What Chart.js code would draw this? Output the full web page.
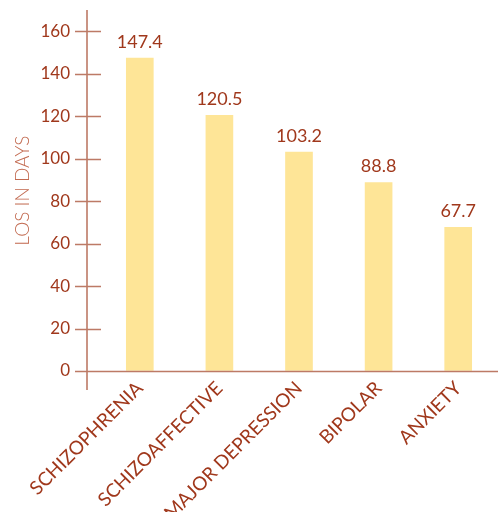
<!DOCTYPE html>
<html>
<head>
<meta charset="utf-8">
<script src="https://cdn.jsdelivr.net/npm/chart.js@4/dist/chart.umd.min.js"></script>
<style>
    html, body { margin: 0; padding: 0; background: #fff; }
    #wrap { width: 498px; height: 512px; }
</style>
</head>
<body>
<div id="wrap"><canvas id="losChart"></canvas></div>
<script>
// data
const diagnoses = ['SCHIZOPHRENIA', 'SCHIZOAFFECTIVE', 'MAJOR DEPRESSION', 'BIPOLAR', 'ANXIETY'];
const losDays = [147.4, 120.5, 103.2, 88.8, 67.7];
const yTicks = [0, 20, 40, 60, 80, 100, 120, 140, 160];

const rust = '#a0381c';
const axisColor = '#bd7a66';
const barColor = '#fee597';
const fontFamily = 'Lato, "Open Sans", sans-serif';

// hand-drawn axes: ticks cross the line like in the original
const crossAxes = {
    id: 'crossAxes',
    afterDatasetsDraw(chart) {
        const ctx = chart.ctx;
        const y = chart.scales.y;
        const axisX = 87;
        const zeroY = Math.round(y.getPixelForValue(0)) + 0.5;
        ctx.save();
        ctx.strokeStyle = axisColor;
        ctx.lineWidth = 1.6;
        ctx.beginPath();
        ctx.moveTo(axisX, 10);
        ctx.lineTo(axisX, 390);
        yTicks.forEach(v => {
            const py = Math.round(y.getPixelForValue(v)) + 0.5;
            ctx.moveTo(75, py);
            ctx.lineTo(101, py);
        });
        ctx.moveTo(75, zeroY);
        ctx.lineTo(chart.width, zeroY);
        ctx.stroke();

        // value labels above bars
        ctx.fillStyle = rust;
        ctx.font = '18px ' + fontFamily;
        ctx.textAlign = 'center';
        ctx.textBaseline = 'bottom';
        chart.getDatasetMeta(0).data.forEach((bar, i) => {
            ctx.fillText(losDays[i].toFixed(1), bar.x, bar.y - 7);
        });
        ctx.restore();
    }
};

const ctx = document.getElementById('losChart').getContext('2d');
new Chart(ctx, {
    type: 'bar',
    data: {
        labels: diagnoses,
        datasets: [{
            data: losDays,
            backgroundColor: barColor,
            borderWidth: 0,
            barThickness: 27
        }]
    },
    options: {
        responsive: true,
        maintainAspectRatio: false,
        animation: false,
        plugins: {
            legend: { display: false },
            tooltip: { enabled: false }
        },
        scales: {
            x: {
                grid: { display: false, drawTicks: false },
                border: { display: false },
                ticks: {
                    color: rust,
                    font: { family: fontFamily, size: 19 },
                    minRotation: 45,
                    maxRotation: 45,
                    padding: 6,
                    autoSkip: false
                },
                afterFit(scale) { scale.height = 141; }
            },
            y: {
                min: 0,
                max: 170,
                // invisible tick marks only to push the labels left
                grid: { display: true, drawOnChartArea: false, drawTicks: true, tickLength: 30, color: 'rgba(0,0,0,0)' },
                border: { display: false },
                afterBuildTicks(scale) {
                    scale.ticks = yTicks.map(v => ({ value: v }));
                },
                ticks: {
                    color: rust,
                    font: { family: fontFamily, size: 17 },
                    padding: 0
                },
                title: {
                    display: true,
                    text: 'LOS IN DAYS',
                    color: '#c26a50',
                    font: { family: fontFamily, size: 19, weight: '300' },
                    padding: { top: 11, bottom: 0 }
                },
                afterFit(scale) { scale.width = 100; }
            }
        }
    },
    plugins: [crossAxes]
});
</script>
</body>
</html>
